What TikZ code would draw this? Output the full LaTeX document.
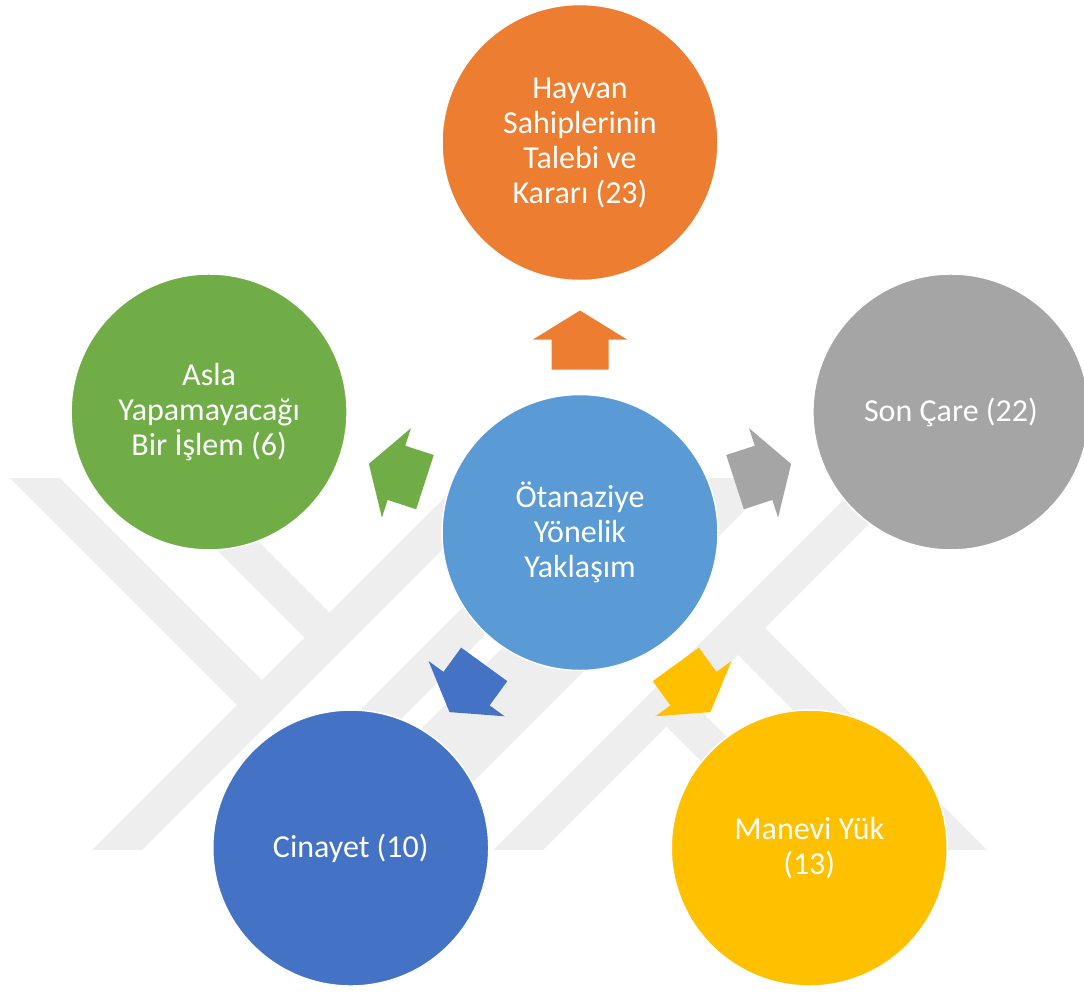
\documentclass[tikz,border=0pt]{standalone}
\usepackage{fontspec}
\setmainfont{Carlito}
\usetikzlibrary{calc}
\definecolor{hubblue}{HTML}{5B9BD5}
\definecolor{offorange}{HTML}{ED7D31}
\definecolor{offgray}{HTML}{A5A5A5}
\definecolor{offgreen}{HTML}{70AD47}
\definecolor{offblue}{HTML}{4472C4}
\definecolor{offyellow}{HTML}{FFC000}
\definecolor{wmgray}{HTML}{EEEEEE}
\begin{document}
\begin{tikzpicture}[x=1pt,y=1pt,
  bubble/.style={circle, minimum size=276pt, inner sep=0pt, draw=white,
    line width=1.5pt, text=white, align=center,
    font=\fontsize{32}{35}\selectfont},
  band/.style={fill=wmgray}]
\useasboundingbox (0,0) rectangle (1084,-993);

% faint emblem in the background
\fill[band] (464,-478) -- (514,-478) -- (142,-850) -- (92,-850) -- cycle;
\fill[band] (592,-478) -- (642,-478) -- (270,-850) -- (220,-850) -- cycle;
\fill[band] (672,-478) -- (777,-478) -- (405,-850) -- (300,-850) -- cycle;
\fill[band] (865,-478) -- (915,-478) -- (543,-850) -- (493,-850) -- cycle;
\fill[band] (10,-478) -- (60,-478) -- (274.5,-692.5) -- (249.5,-717.5) -- cycle;
\fill[band] (145,-478) -- (195,-478) -- (342,-625) -- (317,-650) -- cycle;
\fill[band] (752,-615) -- (987,-850) -- (933,-850) -- (725,-642) -- cycle;
\fill[band] (678.5,-688.5) -- (840,-850) -- (790,-850) -- (653.5,-713.5) -- cycle;

% hub and the five outer circles
\coordinate (c) at (580,-532.5);
\node[bubble, fill=hubblue] (hub) at (c) {Ötanaziye\\Yönelik\\Yaklaşım};
\node[bubble, fill=offorange] (owners) at ($(c)+(90:390pt)$)
  {Hayvan\\Sahiplerinin\\Talebi ve\\Kararı (23)};
\node[bubble, fill=offgray] (last) at ($(c)+(18:390pt)$) {Son Çare (22)};
\node[bubble, fill=offgreen] (never) at ($(c)+(162:390pt)$)
  {Asla\\Yapamayacağı\\Bir İşlem (6)};
\node[bubble, fill=offblue] (murder) at ($(c)+(234:390pt)$) {Cinayet (10)};
\node[bubble, fill=offyellow] (burden) at ($(c)+(306:390pt)$) {Manevi Yük\\(13)};

% block arrows radiating from the hub
\foreach \ang/\col in {90/offorange, 18/offgray, 162/offgreen, 234/offblue, 306/offyellow}
  \fill[\col, shift={(c)}, rotate=\ang]
    (163,28.5) -- (193,28.5) -- (193,47) -- (222,0) -- (193,-47)
    -- (193,-28.5) -- (163,-28.5) -- cycle;
\end{tikzpicture}
\end{document}
